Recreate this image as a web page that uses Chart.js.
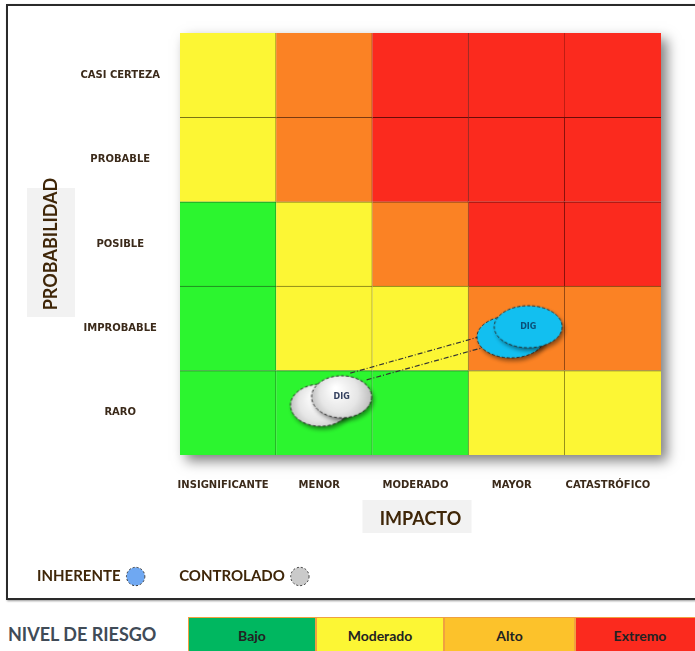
<!DOCTYPE html>
<html>
<head>
<meta charset="utf-8">
<script src="https://cdn.jsdelivr.net/npm/chart.js@4.4.0/dist/chart.umd.min.js"></script>
<style>
  body { margin: 0; width: 695px; height: 651px; overflow: hidden; background: #fff; font-family: Lato, sans-serif; }
  .frame { position: absolute; left: 6px; top: 4px; width: 730px; height: 592px; border: 2px solid #2a2a2a; box-shadow: 1px 1px 2px #999; }
  #wrap { position: absolute; left: 0; top: 0; width: 695px; height: 600px; }
  .nivel { position: absolute; left: 8px; top: 623px; font: bold 18px Lato, sans-serif; color: #404b57; }
  .levels { position: absolute; left: 188px; top: 617px; height: 40px; display: flex; }
  .levels div { flex: none; box-sizing: border-box; height: 40px; border: 1px solid #f0a040; text-align: center; font: bold 14px Lato, sans-serif; line-height: 36px; color: #222; }
</style>
</head>
<body>
<div class="frame"></div>
<div id="wrap"><canvas id="riskMap"></canvas></div>
<div class="nivel">NIVEL DE RIESGO</div>
<div class="levels" id="levels"></div>

<script>
// axis categories
const impactLabels = ['INSIGNIFICANTE', 'MENOR', 'MODERADO', 'MAYOR', 'CATASTRÓFICO'];
const probLabels = ['RARO', 'IMPROBABLE', 'POSIBLE', 'PROBABLE', 'CASI CERTEZA']; // bottom -> top
const levelNames = ['Bajo', 'Moderado', 'Alto', 'Extremo'];

// risk level of each cell (0 Bajo .. 3 Extremo), one array per probability row
const rowRaro = [0, 0, 0, 1, 1];
const rowImprobable = [0, 1, 1, 2, 2];
const rowPosible = [0, 1, 2, 3, 3];
const rowProbable = [1, 2, 3, 3, 3];
const rowCasiCerteza = [1, 2, 3, 3, 3];

// risk positions (impact, probability) - back bubble first, front bubble last
const inherenteX = [3.44, 3.62];
const inherenteY = [1.40, 1.52];
const controladoX = [1.46, 1.68];
const controladoY = [0.59, 0.69];
const riskCode = 'DIG';

// dash-dot links between controlled and inherent
const link1X = [1.77, 3.11];
const link1Y = [0.97, 1.40];
const link2X = [1.94, 3.33];
const link2Y = [0.89, 1.33];

/* styles */
const cellColors = ['#2cf52f', '#fcf634', '#fb8224', '#fb2a1e'];
const cellEdges = ['#1d7a1e', '#7a7414', '#7a3a10', '#6a0c08'];
const levelColors = ['#00b760', '#fcf634', '#fcc22b', '#fb2a1e'];
const levelWidths = [128, 128, 131, 130];
const textColor = '#3f2608';

// bottom level strip
var strip = document.getElementById('levels');
levelNames.forEach(function (name, i) {
    var d = document.createElement('div');
    d.textContent = name;
    d.style.background = levelColors[i];
    d.style.width = levelWidths[i] + 'px';
    strip.appendChild(d);
});

function bubbleImage(rx, ry, paint) {
    var c = document.createElement('canvas');
    c.width = rx * 2 + 16;
    c.height = ry * 2 + 16;
    var g = c.getContext('2d');
    var cx = c.width / 2, cy = c.height / 2;
    g.save();
    g.shadowColor = 'rgba(0,0,0,0.45)';
    g.shadowBlur = 4;
    g.shadowOffsetX = 2;
    g.shadowOffsetY = 3;
    g.beginPath();
    g.ellipse(cx, cy, rx, ry, 0, 0, Math.PI * 2);
    g.fillStyle = paint(g, cx, cy, rx, ry);
    g.fill();
    g.restore();
    g.beginPath();
    g.ellipse(cx, cy, rx, ry, 0, 0, Math.PI * 2);
    g.setLineDash([3, 2]);
    g.lineWidth = 1;
    g.strokeStyle = '#2a2a2a';
    g.stroke();
    return c;
}

const blueBubble = bubbleImage(34, 21, function () { return '#12bff0'; });
const grayBubble = bubbleImage(30, 21, function (g, cx, cy, rx, ry) {
    var gr = g.createRadialGradient(cx - rx * 0.2, cy - ry * 0.4, 2, cx, cy, rx * 1.1);
    gr.addColorStop(0, '#ffffff');
    gr.addColorStop(0.55, '#e6e6e6');
    gr.addColorStop(1, '#b4b4b4');
    return gr;
});

const rows = [rowRaro, rowImprobable, rowPosible, rowProbable, rowCasiCerteza];
const cellSets = rows.map(function (row, r) {
    return {
        type: 'bar',
        label: probLabels[r],
        order: 10,
        data: row.map(function (lvl, c) { return { x: c + 0.5, y: [r, r + 1] }; }),
        backgroundColor: row.map(function (lvl) { return cellColors[lvl]; }),
        borderColor: row.map(function (lvl) { return cellEdges[lvl]; }),
        borderWidth: function (ctx) {
            return { top: r < 4 ? 1 : 0, right: ctx.dataIndex < 4 ? 1 : 0, bottom: 0, left: 0 };
        },
        borderSkipped: false,
        barPercentage: 1,
        categoryPercentage: 1
    };
});

function points(xs, ys) {
    return xs.map(function (x, i) { return { x: x, y: ys[i] }; });
}

const linkSets = [[link1X, link1Y], [link2X, link2Y]].map(function (l, i) {
    return {
        type: 'line',
        label: 'link' + i,
        order: 5,
        data: points(l[0], l[1]),
        borderColor: '#333',
        borderWidth: 1.2,
        borderDash: [5, 2, 1, 2],
        pointRadius: 0,
        fill: false
    };
});

const riskSets = [
    { type: 'scatter', label: 'INHERENTE', order: 1, data: points(inherenteX, inherenteY),
      pointStyle: blueBubble, pointRadius: 10, legendColor: '#6fa8f2', codeColor: '#0b4f78' },
    { type: 'scatter', label: 'CONTROLADO', order: 1, data: points(controladoX, controladoY),
      pointStyle: grayBubble, pointRadius: 10, legendColor: '#cacaca', codeColor: '#34405e' }
];

const datasets = cellSets.concat(linkSets, riskSets);

// grey boxes behind axis titles
const titleBoxes = {
    id: 'titleBoxes',
    beforeDraw: function (chart) {
        var ctx = chart.ctx, a = chart.chartArea, y = chart.scales.y;
        var ym = (a.top + a.bottom) / 2, xm = (a.left + a.right) / 2;
        ctx.save();
        ctx.fillStyle = '#f2f2f2';
        ctx.fillRect(y.left + 26, ym - 56, 48, 129);
        ctx.fillRect(xm - 58, a.bottom + 45, 109, 33);
        ctx.restore();
    }
};

// drop shadow of the matrix
const gridShadow = {
    id: 'gridShadow',
    beforeDatasetsDraw: function (chart) {
        var ctx = chart.ctx, a = chart.chartArea;
        ctx.save();
        ctx.shadowColor = 'rgba(0,0,0,0.5)';
        ctx.shadowBlur = 12;
        ctx.shadowOffsetX = 6;
        ctx.shadowOffsetY = 6;
        ctx.fillStyle = '#fff';
        ctx.fillRect(a.left, a.top, a.right - a.left, a.bottom - a.top);
        ctx.restore();
    }
};

// risk code on the front bubble
const riskCodes = {
    id: 'riskCodes',
    afterDatasetsDraw: function (chart) {
        var ctx = chart.ctx;
        ctx.save();
        ctx.font = 'bold 8px "DejaVu Sans"';
        ctx.textAlign = 'center';
        ctx.textBaseline = 'middle';
        chart.data.datasets.forEach(function (ds, i) {
            if (ds.type !== 'scatter') return;
            var pts = chart.getDatasetMeta(i).data;
            var p = pts[pts.length - 1];
            ctx.fillStyle = ds.codeColor;
            ctx.fillText(riskCode, p.x, p.y);
        });
        ctx.restore();
    }
};

const tickFont = { family: 'DejaVu Sans', size: 10, weight: 'bold' };
const titleFont = { family: 'Lato', size: 18, weight: 'bold' };

const riskChart = new Chart(document.getElementById('riskMap'), {
    type: 'bar',
    data: { datasets: datasets },
    plugins: [titleBoxes, gridShadow, riskCodes],
    options: {
        responsive: true,
        maintainAspectRatio: false,
        animation: false,
        layout: { padding: { left: 1, top: 33, right: 34, bottom: 6 } },
        plugins: {
            tooltip: { enabled: false },
            legend: {
                position: 'bottom',
                align: 'end',
                rtl: true,
                labels: {
                    usePointStyle: true,
                    boxHeight: 13,
                    padding: 36,
                    color: textColor,
                    font: { family: 'Lato', size: 15, weight: 'bold' },
                    generateLabels: function (chart) {
                        var items = [];
                        chart.data.datasets.forEach(function (ds, i) {
                            if (ds.type !== 'scatter') return;
                            items.unshift({
                                text: ds.label,
                                datasetIndex: i,
                                fillStyle: ds.legendColor,
                                strokeStyle: '#333',
                                lineWidth: 1,
                                lineDash: [2, 2],
                                pointStyle: 'circle',
                                fontColor: textColor,
                                hidden: false
                            });
                        });
                        return items;
                    }
                }
            }
        },
        scales: {
            x: {
                type: 'linear',
                min: 0,
                max: 5,
                stacked: true,
                offset: false,
                grid: { display: false, drawTicks: false },
                border: { display: false },
                afterBuildTicks: function (s) {
                    s.ticks = impactLabels.map(function (_, i) { return { value: i + 0.5 }; });
                },
                afterFit: function (s) { s.height = 78; },
                ticks: {
                    padding: 24,
                    labelOffset: -5,
                    autoSkip: false,
                    maxRotation: 0,
                    color: '#3b2a1a',
                    font: tickFont,
                    callback: function (v) { return impactLabels[Math.floor(v)]; }
                },
                title: { display: true, text: 'IMPACTO', color: textColor, font: titleFont, padding: { top: 0, bottom: 3 } }
            },
            y: {
                type: 'linear',
                min: 0,
                max: 5,
                grid: { display: false, drawTicks: false },
                border: { display: false },
                afterBuildTicks: function (s) {
                    s.ticks = probLabels.map(function (_, i) { return { value: i + 0.5 }; });
                },
                afterFit: function (s) { s.width = 179; },
                ticks: {
                    padding: 20,
                    crossAlign: 'center',
                    autoSkip: false,
                    color: '#3b2a1a',
                    font: tickFont,
                    callback: function (v) { return probLabels[Math.floor(v)]; }
                },
                title: { display: true, text: 'PROBABILIDAD', color: textColor, font: titleFont, padding: { top: 39, bottom: 0 } }
            }
        }
    }
});
</script>
</body>
</html>
